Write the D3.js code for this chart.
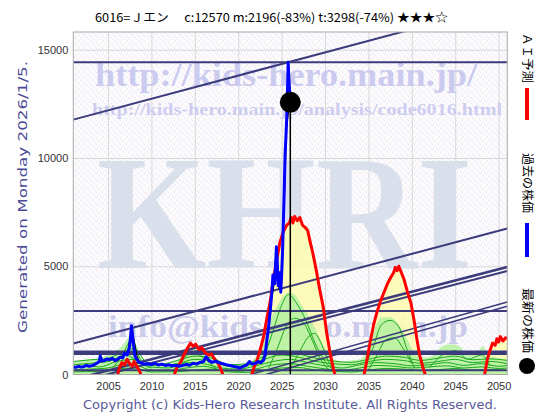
<!DOCTYPE html>
<html><head><meta charset="utf-8">
<script src="https://cdn.jsdelivr.net/npm/d3@7"></script>
<style>html,body{margin:0;padding:0;background:#fff;}svg{display:block;}</style>
</head><body>
<svg id="chart" width="560" height="420"></svg>
<script>
// ---------- data ----------
const titleText = "6016=Ｊエン\u3000 c:12570  m:2196(-83%)  t:3298(-74%)  ★★★☆";
const xTicks = [2005, 2010, 2015, 2020, 2025, 2030, 2035, 2040, 2045, 2050];
const yTicks = [0, 5000, 10000, 15000];
const latest = [2026.0, 12570];

const pastPrice = [[2001.0,350],[2001.3,330],[2001.6,380],[2001.9,340],[2002.2,360],[2002.5,420],[2002.8,380],[2003.1,400],[2003.4,450],[2003.7,520],[2004.0,600],[2004.1,850],[2004.3,620],[2004.6,650],[2004.9,720],[2005.2,680],[2005.5,750],[2005.8,640],[2006.1,700],[2006.4,800],[2006.7,760],[2006.9,980],[2007.2,900],[2007.5,1300],[2007.7,2250],[2007.9,1500],[2008.1,850],[2008.3,700],[2008.6,560],[2008.9,520],[2009.2,480],[2009.6,500],[2010.0,460],[2010.4,520],[2010.8,440],[2011.2,480],[2011.6,420],[2012.0,450],[2012.4,400],[2012.8,430],[2013.2,380],[2013.6,420],[2014.0,460],[2014.4,430],[2014.8,520],[2015.2,480],[2015.6,560],[2016.0,600],[2016.3,820],[2016.6,650],[2017.0,560],[2017.4,620],[2017.8,540],[2018.2,500],[2018.6,450],[2019.0,420],[2019.4,380],[2019.8,350],[2020.2,300],[2020.6,380],[2021.0,450],[2021.3,600],[2021.6,480],[2022.0,520],[2022.3,600],[2022.6,550],[2022.9,650],[2023.1,900],[2023.3,1600],[2023.5,2200],[2023.7,3000],[2023.9,3900],[2024.0,4600],[2024.2,4200],[2024.4,5900],[2024.5,5200],[2024.6,4100],[2024.8,4700],[2024.9,3800],[2025.0,4600],[2025.1,5600],[2025.2,7000],[2025.3,8500],[2025.4,10200],[2025.5,11000],[2025.6,12000],[2025.7,13500],[2025.75,14420],[2025.85,13600],[2026.0,12570]];

const blackTrace1 = [[2007.3,1150],[2007.6,1850],[2007.8,2150],[2008.0,1600],[2008.3,900],[2008.6,600]];
const blackTrace2 = [[2023.9,3600],[2024.2,4300],[2024.5,4800],[2024.7,3900],[2025.0,4300],[2025.3,7800],[2025.6,11500],[2025.9,12400],[2026.0,12570]];

const aiPred1 = [[2006.0,-200],[2006.3,300],[2006.6,550],[2006.9,450],[2007.2,700],[2007.5,500],[2007.8,380],[2008.0,600],[2008.2,450],[2008.5,250],[2008.7,100],[2008.9,-200]];
const aiPred2 = [[2012.5,-200],[2012.9,300],[2013.4,600],[2013.8,950],[2014.2,1250],[2014.5,1450],[2014.8,1300],[2015.1,1400],[2015.5,1150],[2015.8,1250],[2016.2,1000],[2016.6,900],[2016.9,950],[2017.3,700],[2017.7,500],[2018.0,250],[2018.4,-200]];
const aiPred3 = [[2021.4,-200],[2021.8,300],[2022.2,700],[2022.5,1100],[2022.9,1700],[2023.3,2600],[2023.7,3400],[2024.0,4300],[2024.4,5200],[2024.8,6100],[2025.2,6600],[2025.6,6900],[2025.9,7000],[2026.1,7250],[2026.3,7000],[2026.5,7300],[2026.8,7100],[2027.1,7250],[2027.4,6900],[2027.7,6800],[2028.0,6650],[2028.3,6100],[2028.6,5600],[2029.0,4800],[2029.4,3900],[2029.8,3100],[2030.2,1900],[2030.6,950],[2031.0,200],[2031.3,-200]];
const aiPred4 = [[2034.4,-200],[2034.8,600],[2035.2,1500],[2035.6,2300],[2036.0,2900],[2036.4,3400],[2036.8,3800],[2037.2,4200],[2037.6,4500],[2037.9,4700],[2038.1,4950],[2038.3,4800],[2038.5,5000],[2038.8,4700],[2039.1,4400],[2039.5,3800],[2039.9,3300],[2040.3,2400],[2040.6,1600],[2040.9,900],[2041.3,300],[2041.7,-200]];
const aiPred5 = [[2048.3,-200],[2048.7,700],[2049.0,1100],[2049.3,1450],[2049.6,1350],[2049.8,1650],[2050.0,1500],[2050.2,1750],[2050.5,1550],[2050.8,1700],[2051.0,1650]];

const greenEnvelope = [[2001.0,550],[2002,650],[2003,700],[2004,750],[2005,900],[2006,1100],[2007,1500],[2007.7,1900],[2008.3,1300],[2009,700],[2010,500],[2011,450],[2012,500],[2013,700],[2014,1000],[2015,1100],[2016,1050],[2017,900],[2018,600],[2019,400],[2020,350],[2021,450],[2022,800],[2022.8,1300],[2023.5,2300],[2024.3,3000],[2025,3500],[2025.8,3800],[2026.5,3700],[2027.3,3200],[2028,2800],[2029,2000],[2030,1200],[2031,700],[2032,600],[2033,650],[2034,700],[2035,1200],[2035.8,2200],[2036.5,2650],[2037.5,2650],[2038.5,2300],[2039.5,1600],[2040.5,900],[2041.5,800],[2042.5,900],[2043.5,1300],[2044.5,1400],[2045.5,1300],[2046.5,900],[2047.5,1000],[2048.2,1300],[2048.8,900],[2050,750],[2051,700]];

const gBand1 = [[2001,450],[2003,520],[2005,600],[2007,900],[2009,500],[2011,420],[2013,500],[2015,700],[2017,600],[2019,380],[2021,420],[2023,700],[2025,900],[2027,800],[2029,600],[2031,500],[2033,450],[2035,600],[2037,700],[2039,650],[2041,520],[2043,600],[2045,700],[2047,550],[2049,600],[2051,500]];
const gBand2 = [[2001,300],[2002.5,400],[2004,350],[2006,600],[2008,700],[2010,350],[2012,300],[2014,550],[2016,500],[2018,300],[2020,250],[2022,400],[2024,600],[2026,700],[2028,550],[2030,400],[2032,300],[2034,450],[2036,550],[2038,500],[2040,400],[2042,450],[2044,550],[2046,420],[2048,500],[2050,380],[2051,420]];
const gBand3 = [[2001,200],[2003,250],[2005,300],[2007,500],[2008.5,400],[2010,200],[2012,180],[2014,300],[2016,380],[2018,220],[2020,150],[2022,250],[2024,450],[2026,500],[2028,380],[2030,260],[2032,200],[2034,300],[2036,420],[2038,380],[2040,300],[2042,350],[2044,400],[2046,300],[2048,350],[2050,280],[2051,300]];
const gBand4 = [[2001,600],[2003,680],[2005,750],[2006.5,1000],[2008,1200],[2009.5,550],[2011,480],[2013,650],[2015,850],[2017,750],[2019,450],[2021,500],[2023,850],[2025,1100],[2027,950],[2029,750],[2031,620],[2033,560],[2035,700],[2037,850],[2039,800],[2041,650],[2043,750],[2045,850],[2047,680],[2049,720],[2051,650]];
const gBand5 = [[2001,120],[2004,150],[2006,250],[2008,300],[2010,120],[2013,130],[2015,200],[2017,250],[2019,120],[2021,100],[2023,200],[2025,300],[2027,320],[2029,200],[2031,150],[2033,120],[2035,200],[2037,280],[2039,250],[2041,180],[2043,220],[2045,280],[2047,200],[2049,230],[2051,180]];
const gHump1 = [[2005.5,300],[2006.5,800],[2007.3,1400],[2007.8,1750],[2008.3,1100],[2009,500],[2010,300]];
const gHump2 = [[2012.5,200],[2013.5,600],[2014.5,1000],[2015.5,900],[2016.5,600],[2017.5,250]];
const gHump3 = [[2022,400],[2023,900],[2024,2000],[2025,3200],[2025.8,3700],[2026.7,3300],[2027.8,2500],[2028.8,1500],[2030,600],[2031,200]];
const gHump4 = [[2023.5,300],[2024.5,1200],[2025.5,2200],[2026.5,2600],[2027.5,2400],[2028.5,1600],[2029.5,700],[2030.5,200]];
const gHump5 = [[2026,300],[2027,1000],[2028,1700],[2028.8,1900],[2029.6,1400],[2030.4,600],[2031,200]];
const gHump6 = [[2034.5,300],[2035.5,1200],[2036.5,2300],[2037.5,2500],[2038.5,2200],[2039.5,1100],[2040.3,300]];
const gHump7 = [[2035,200],[2036,900],[2037,1600],[2038,1700],[2039,1200],[2040,500]];
const gHump8 = [[2042,300],[2043.5,900],[2045,1100],[2046.5,700],[2048,900],[2049,400]];

const hLevels = [14420, 2930, 1000, 200];
const hWidths = [2, 2, 4.5, 2];
const trendLines = [
  [[2001, 11773], [2051, 17123]],
  [[2001, 1431], [2051, 6740]],
  [[2001, -232], [2051, 4967]],
  [[2001, -400], [2051, 4780]],
  [[2021.4, 0], [2051, 3352]],
  [[2023.2, 0], [2051, 3153]]
];
const trendWidths = [2, 2, 2.5, 2, 1.6, 1.6];

// ---------- layout ----------
const svg = d3.select("#chart");
const L = 73.3, R = 507.3, T = 32, B = 374.5;
const xs = d3.scaleLinear().domain([2001, 2051]).range([L, R]);
const ys = d3.scaleLinear().domain([0, 15820]).range([B, T]);

const defs = svg.append("defs");
const pat = defs.append("pattern").attr("id", "dots").attr("width", 6).attr("height", 6).attr("patternUnits", "userSpaceOnUse");
pat.append("rect").attr("width", 6).attr("height", 6).attr("fill", "#fdfcfd");
[[0,0,"#f2d6f2"],[3,1,"#dde4f6"],[1,4,"#e6e6e6"],[4,3,"#f4dcf4"],[5,5,"#e2e8f6"],[2,2,"#f6e4f6"]].forEach(p => {
  pat.append("rect").attr("x", p[0]).attr("y", p[1]).attr("width", 1).attr("height", 1).attr("fill", p[2]);
});
defs.append("clipPath").attr("id", "clip").append("rect").attr("x", L).attr("y", T).attr("width", R - L).attr("height", B - T);

svg.append("rect").attr("x", L).attr("y", T).attr("width", R - L).attr("height", B - T).attr("fill", "url(#dots)");

// grid
svg.append("g").attr("transform", `translate(0,${B})`)
  .call(d3.axisBottom(xs).tickValues(xTicks).tickSize(-(B - T)).tickFormat(""))
  .call(g => g.select(".domain").remove())
  .call(g => g.selectAll("line").attr("stroke", "#d8d8d8"));
svg.append("g").attr("transform", `translate(${L},0)`)
  .call(d3.axisLeft(ys).tickValues(yTicks.slice(1)).tickSize(-(R - L)).tickFormat(""))
  .call(g => g.select(".domain").remove())
  .call(g => g.selectAll("line").attr("stroke", "#d8d8d8"));

// watermarks
const wm = svg.append("g").attr("clip-path", "url(#clip)");
wm.append("text").attr("x", 95).attr("y", 86).attr("textLength", 382).attr("lengthAdjust", "spacingAndGlyphs")
  .attr("font-family", "Liberation Serif, serif").attr("font-weight", "bold").attr("font-size", 34)
  .attr("fill", "#cbcbf0").text("http://kids-hero.main.jp/");
wm.append("text").attr("x", 92).attr("y", 115).attr("textLength", 410).attr("lengthAdjust", "spacingAndGlyphs")
  .attr("font-family", "Liberation Serif, serif").attr("font-weight", "bold").attr("font-size", 17)
  .attr("fill", "#cdcdf0").text("http://kids-hero.main.jp/analysis/code6016.html");
wm.append("text").attr("x", 97).attr("y", 268).attr("textLength", 375).attr("lengthAdjust", "spacingAndGlyphs")
  .attr("font-family", "Liberation Serif, serif").attr("font-weight", "bold").attr("font-size", 164)
  .attr("fill", "#dadfec").text("KHRI");
wm.append("text").attr("x", 108).attr("y", 337).attr("textLength", 360).attr("lengthAdjust", "spacingAndGlyphs")
  .attr("font-family", "Liberation Serif, serif").attr("font-weight", "bold").attr("font-size", 31)
  .attr("fill", "#cbcbec").text("info@kids-hero.main.jp");

const plot = svg.append("g").attr("clip-path", "url(#clip)");
const line = d3.line().x(d => xs(d[0])).y(d => ys(d[1]));
const smooth = d3.line().x(d => xs(d[0])).y(d => ys(d[1])).curve(d3.curveMonotoneX);
const area = d3.area().x(d => xs(d[0])).y0(ys(0)).y1(d => ys(Math.max(0, d[1]))).curve(d3.curveMonotoneX);

// yellow fills under AI prediction
[aiPred1, aiPred2, aiPred3, aiPred4, aiPred5].forEach(s => {
  plot.append("path").attr("d", area(s)).attr("fill", "#fdfbb4").attr("opacity", 0.9);
});
// green envelope
plot.append("path").attr("d", area(greenEnvelope)).attr("fill", "#b4f0a0").attr("opacity", 0.85);
// green lines
[gBand1, gBand2, gBand3, gBand4, gBand5, gHump1, gHump2, gHump3, gHump4, gHump5, gHump6, gHump7, gHump8].forEach(s => {
  plot.append("path").attr("d", smooth(s)).attr("fill", "none").attr("stroke", "#1aa81a").attr("stroke-width", 1);
});

// navy lines
hLevels.forEach((v, i) => {
  plot.append("line").attr("x1", xs(2001)).attr("x2", xs(2051)).attr("y1", ys(v)).attr("y2", ys(v))
    .attr("stroke", "#3c3c7c").attr("stroke-width", hWidths[i]);
});
trendLines.forEach((s, i) => {
  plot.append("path").attr("d", line(s)).attr("fill", "none").attr("stroke", "#3c3c7c").attr("stroke-width", trendWidths[i]);
});

// AI prediction red
[aiPred1, aiPred2, aiPred3, aiPred4, aiPred5].forEach(s => {
  plot.append("path").attr("d", line(s)).attr("fill", "none").attr("stroke", "#ff0000").attr("stroke-width", 3).attr("stroke-linejoin", "round");
});

// black traces + current date line
[blackTrace1, blackTrace2].forEach(s => {
  plot.append("path").attr("d", line(s)).attr("fill", "none").attr("stroke", "#000").attr("stroke-width", 1);
});
plot.append("line").attr("x1", xs(latest[0])).attr("x2", xs(latest[0])).attr("y1", ys(latest[1])).attr("y2", ys(0))
  .attr("stroke", "#000").attr("stroke-width", 1.5);

// past price blue
plot.append("path").attr("d", line(pastPrice)).attr("fill", "none").attr("stroke", "#0000ff").attr("stroke-width", 3).attr("stroke-linejoin", "round");

// latest dot
svg.append("circle").attr("cx", xs(latest[0])).attr("cy", ys(latest[1])).attr("r", 10.5).attr("fill", "#000");

// frame
svg.append("rect").attr("x", L).attr("y", T).attr("width", R - L).attr("height", B - T).attr("fill", "none").attr("stroke", "#a8a8a8");

// axes labels
const xa = svg.append("g").attr("transform", `translate(0,${B})`)
  .call(d3.axisBottom(xs).tickValues(xTicks).tickSize(0).tickPadding(8).tickFormat(d3.format("d")));
xa.select(".domain").remove();
xa.selectAll("text").attr("font-family", "Liberation Sans, Arial, sans-serif").attr("font-size", 11).attr("fill", "#333");
const ya = svg.append("g").attr("transform", `translate(${L},0)`)
  .call(d3.axisLeft(ys).tickValues(yTicks).tickSize(0).tickPadding(5).tickFormat(d3.format("d")));
ya.select(".domain").remove();
ya.selectAll("text").attr("font-family", "Liberation Sans, Arial, sans-serif").attr("font-size", 11).attr("fill", "#333");

// title
svg.append("text").attr("x", 95).attr("y", 22).attr("textLength", 353).attr("lengthAdjust", "spacingAndGlyphs")
  .attr("font-family", "Noto Sans CJK JP, sans-serif").attr("font-size", 12).attr("fill", "#000").text(titleText);

// side label
svg.append("text").attr("transform", "translate(27,197) rotate(-90)").attr("text-anchor", "middle")
  .attr("textLength", 272).attr("lengthAdjust", "spacingAndGlyphs")
  .attr("font-family", "DejaVu Sans, sans-serif").attr("font-size", 13).attr("fill", "#4a4a96").text("Generated on Monday 2026/1/5.");

// copyright
svg.append("text").attr("x", 290).attr("y", 409).attr("text-anchor", "middle")
  .attr("textLength", 414).attr("lengthAdjust", "spacingAndGlyphs")
  .attr("font-family", "DejaVu Sans, sans-serif").attr("font-size", 13).attr("fill", "#5a5a9a")
  .text("Copyright (c) Kids-Hero Research Institute. All Rights Reserved.");

// legend
const legFont = "Noto Sans CJK JP, sans-serif";
svg.append("text").attr("transform", "translate(523,33) rotate(90)").attr("textLength", 50).attr("lengthAdjust", "spacingAndGlyphs")
  .attr("font-family", legFont).attr("font-size", 12).attr("fill", "#000").text("ＡＩ予測");
svg.append("rect").attr("x", 525).attr("y", 88).attr("width", 4).attr("height", 32).attr("fill", "#ff0000");
svg.append("text").attr("transform", "translate(523,153) rotate(90)").attr("textLength", 60).attr("lengthAdjust", "spacingAndGlyphs")
  .attr("font-family", legFont).attr("font-size", 12).attr("fill", "#000").text("過去の株価");
svg.append("rect").attr("x", 525).attr("y", 223).attr("width", 4).attr("height", 34).attr("fill", "#0000ff");
svg.append("text").attr("transform", "translate(523,288) rotate(90)").attr("textLength", 65).attr("lengthAdjust", "spacingAndGlyphs")
  .attr("font-family", legFont).attr("font-size", 12).attr("fill", "#000").text("最新の株価");
svg.append("circle").attr("cx", 527).attr("cy", 366).attr("r", 8).attr("fill", "#000");
</script>
</body></html>
